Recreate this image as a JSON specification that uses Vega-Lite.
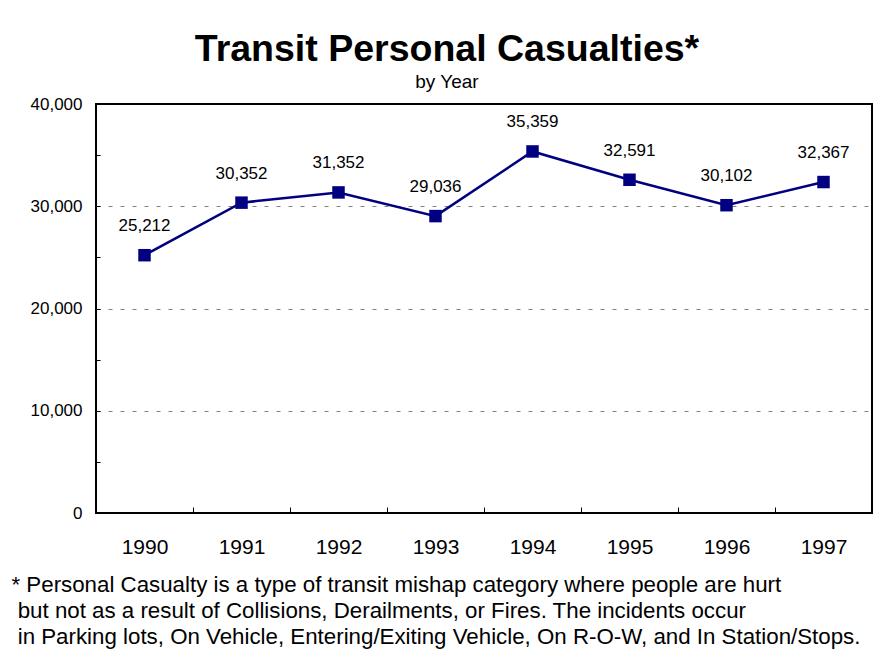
{
  "$schema": "https://vega.github.io/schema/vega-lite/v6.json",
  "width": 776,
  "height": 409,
  "autosize": "none",
  "padding": {"left": 96, "top": 104, "right": 16, "bottom": 146},
  "background": "white",
  "config": {
    "font": "Liberation Sans",
    "view": {"stroke": "black", "strokeWidth": 2},
    "axis": {"domain": false, "labelColor": "black", "tickColor": "black", "titleColor": "black", "labelFont": "Liberation Sans", "titleFont": "Liberation Sans"}
  },
  "title": {
    "text": "Transit Personal Casualties*",
    "subtitle": "by Year",
    "font": "Liberation Sans",
    "fontSize": 37.5,
    "fontWeight": "bold",
    "color": "black",
    "subtitleFont": "Liberation Sans",
    "subtitleFontSize": 19,
    "subtitleColor": "black",
    "subtitlePadding": 5,
    "anchor": "middle",
    "dx": -37,
    "offset": 3
  },
  "data": {
    "values": [
      {"year": "1990", "casualties": 25212},
      {"year": "1991", "casualties": 30352},
      {"year": "1992", "casualties": 31352},
      {"year": "1993", "casualties": 29036},
      {"year": "1994", "casualties": 35359},
      {"year": "1995", "casualties": 32591},
      {"year": "1996", "casualties": 30102},
      {"year": "1997", "casualties": 32367}
    ]
  },
  "encoding": {
    "x": {
      "field": "year",
      "type": "nominal",
      "bandPosition": 0.5,
      "scale": {"type": "band", "paddingInner": 0, "paddingOuter": 0},
      "axis": {
        "labelAngle": 0,
        "labelFontSize": 21,
        "tickBand": "extent",
        "tickSize": -6,
        "tickWidth": 1,
        "labelPadding": 29,
        "grid": false,
        "title": [
          "* Personal Casualty is a type of transit mishap category where people are hurt",
          "\u200b\u00a0but not as a result of Collisions, Derailments, or Fires. The incidents occur",
          "\u200b\u00a0in Parking lots, On Vehicle, Entering/Exiting Vehicle, On R-O-W, and In Station/Stops."
        ],
        "titleFontSize": 22.3,
        "titleFontWeight": "normal",
        "titleAlign": "left",
        "titleAnchor": "start",
        "titleBaseline": "alphabetic",
        "titleX": -85,
        "titleY": 78,
        "titleLineHeight": 26
      }
    },
    "y": {
      "field": "casualties",
      "type": "quantitative",
      "scale": {"domain": [0, 40000], "nice": false},
      "axis": {
        "title": null,
        "values": [0, 5000, 10000, 15000, 20000, 25000, 30000, 35000, 40000],
        "labelExpr": "datum.value % 10000 === 0 ? format(datum.value, ',') : ''",
        "labelFontSize": 17,
        "tickSize": -4,
        "tickWidth": 1,
        "labelPadding": 18,
        "grid": true,
        "gridColor": "#808080",
        "gridDash": [4, 8],
        "gridWidth": 1,
        "gridOpacity": {"condition": {"test": "datum.value % 10000 === 0 && datum.value > 0 && datum.value < 40000", "value": 1}, "value": 0}
      }
    }
  },
  "layer": [
    {"mark": {"type": "line", "color": "#000080", "strokeWidth": 2.5}},
    {"mark": {"type": "point", "shape": "square", "filled": true, "size": 156, "color": "#000080", "opacity": 1}},
    {
      "mark": {"type": "text", "dy": -20, "fontSize": 17, "font": "Liberation Sans", "color": "black", "baseline": "bottom"},
      "encoding": {"text": {"field": "casualties", "type": "quantitative", "format": ","}}
    }
  ]
}
